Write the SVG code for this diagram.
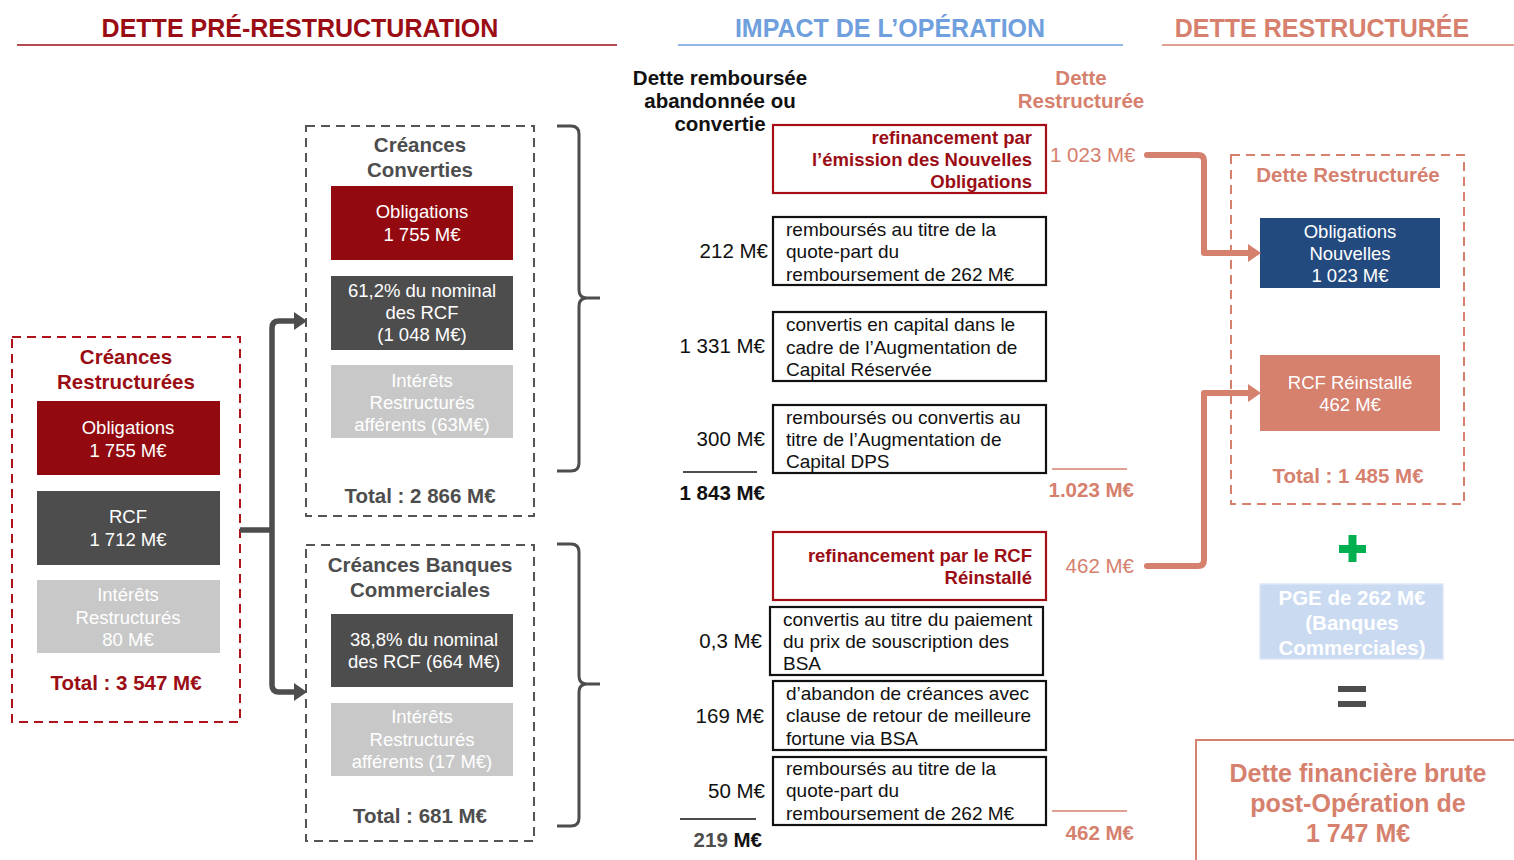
<svg xmlns="http://www.w3.org/2000/svg" width="1514" height="860" viewBox="0 0 1514 860">
<style>
text{font-family:"Liberation Sans",Arial,sans-serif}
.h{font-size:25px;font-weight:bold;text-anchor:middle}
.t{font-size:20.5px;font-weight:bold;text-anchor:middle}
.w{font-size:18.5px;fill:#fff;text-anchor:middle}
.b{font-size:19px;fill:#111}
.amt{font-size:20.5px;fill:#111;text-anchor:end}
.red{fill:#9b0d14}
.gr{fill:#4d4d4d}
.sal{fill:#d6806e}
.dr{fill:#920a10}
.dg{fill:#4d4d4d}
.lg{fill:#c8c8c8}
.dashR{fill:none;stroke:#b0121c;stroke-width:2;stroke-dasharray:9 6}
.dashG{fill:none;stroke:#555;stroke-width:2;stroke-dasharray:9 6}
.dashS{fill:none;stroke:#d6806e;stroke-width:2;stroke-dasharray:9 6}
.bx{fill:#fff;stroke:#111;stroke-width:2.2}
.rbx{fill:#fff;stroke:#a50e16;stroke-width:2.2}
.brk{fill:none;stroke:#4d4d4d;stroke-width:3}
</style>

<g id="headers">
<text class="h red" x="300" y="37">DETTE PRÉ-RESTRUCTURATION</text>
<line x1="17" y1="45" x2="617" y2="45" stroke="#9b0d14" stroke-width="1.6"/>
<text class="h" x="890" y="37" fill="#6f9fdc">IMPACT DE L’OPÉRATION</text>
<line x1="678" y1="45" x2="1123" y2="45" stroke="#6f9fdc" stroke-width="1.6"/>
<text class="h sal" x="1322" y="37">DETTE RESTRUCTURÉE</text>
<line x1="1162" y1="45" x2="1514" y2="45" stroke="#d6806e" stroke-width="1.6"/>
</g>

<g id="creances-restructurees">
<rect class="dashR" x="12" y="337" width="228" height="385"/>
<text class="t red" x="126" y="364">Créances</text>
<text class="t red" x="126" y="389">Restructurées</text>
<rect class="dr" x="37" y="401" width="183" height="74"/>
<text class="w" x="128" y="434">Obligations</text>
<text class="w" x="128" y="457">1 755 M€</text>
<rect class="dg" x="37" y="491" width="183" height="74"/>
<text class="w" x="128" y="523">RCF</text>
<text class="w" x="128" y="546">1 712 M€</text>
<rect class="lg" x="37" y="580" width="183" height="73"/>
<text class="w" x="128" y="601">Intérêts</text>
<text class="w" x="128" y="624">Restructurés</text>
<text class="w" x="128" y="646">80 M€</text>
<text class="t red" x="126" y="690">Total : 3 547 M€</text>
</g>

<g id="creances-converties">
<rect class="dashG" x="306" y="126" width="228" height="390"/>
<text class="t gr" x="420" y="152">Créances</text>
<text class="t gr" x="420" y="177">Converties</text>
<rect class="dr" x="331" y="186" width="182" height="74"/>
<text class="w" x="422" y="218">Obligations</text>
<text class="w" x="422" y="241">1 755 M€</text>
<rect class="dg" x="331" y="276" width="182" height="74"/>
<text class="w" x="422" y="297">61,2% du nominal</text>
<text class="w" x="422" y="319">des RCF</text>
<text class="w" x="422" y="341">(1 048 M€)</text>
<rect class="lg" x="331" y="365" width="182" height="73"/>
<text class="w" x="422" y="387">Intérêts</text>
<text class="w" x="422" y="409">Restructurés</text>
<text class="w" x="422" y="431">afférents (63M€)</text>
<text class="t gr" x="420" y="503">Total : 2 866 M€</text>
</g>

<g id="creances-banques">
<rect class="dashG" x="306" y="545" width="228" height="296"/>
<text class="t gr" x="420" y="572">Créances Banques</text>
<text class="t gr" x="420" y="597">Commerciales</text>
<rect class="dg" x="331" y="614" width="182" height="73"/>
<text class="w" x="424" y="646">38,8% du nominal</text>
<text class="w" x="424" y="668">des RCF (664 M€)</text>
<rect class="lg" x="331" y="703" width="182" height="73"/>
<text class="w" x="422" y="723">Intérêts</text>
<text class="w" x="422" y="746">Restructurés</text>
<text class="w" x="422" y="768">afférents (17 M€)</text>
<text class="t gr" x="420" y="823">Total : 681 M€</text>
</g>

<g id="brackets">
<path class="brk" d="M557,126 H571 Q579,126 579,134 V290 Q579,298 587,298 H600 M587,298 Q579,298 579,306 V463 Q579,471 571,471 H557"/>
<path class="brk" d="M557,544 H571 Q579,544 579,552 V676 Q579,684 587,684 H600 M587,684 Q579,684 579,692 V818 Q579,826 571,826 H557"/>
</g>

<g id="impact-headings">
<text class="t" x="720" y="85" fill="#111">Dette remboursée</text>
<text class="t" x="720" y="108" fill="#111">abandonnée ou</text>
<text class="t" x="720" y="131" fill="#111">convertie</text>
<text class="t sal" x="1081" y="85">Dette</text>
<text class="t sal" x="1081" y="108">Restructurée</text>
</g>

<g id="refi-obligations">
<rect class="rbx" x="773" y="125" width="273" height="68"/>
<text x="1032" y="144" font-size="18.5" font-weight="bold" text-anchor="end" class="red">refinancement par</text>
<text x="1032" y="166" font-size="18.5" font-weight="bold" text-anchor="end" class="red">l’émission des Nouvelles</text>
<text x="1032" y="188" font-size="18.5" font-weight="bold" text-anchor="end" class="red">Obligations</text>
<text x="1050" y="162" font-size="20.5" class="sal">1 023 M€</text>
</g>

<g id="op-212">
<rect class="bx" x="773" y="217" width="273" height="68"/>
<text class="b" x="786" y="236">remboursés au titre de la</text>
<text class="b" x="786" y="258">quote-part du</text>
<text class="b" x="786" y="281">remboursement de 262 M€</text>
<text class="amt" x="768" y="258">212 M€</text>
</g>

<g id="op-1331">
<rect class="bx" x="773" y="312" width="273" height="69"/>
<text class="b" x="786" y="331">convertis en capital dans le</text>
<text class="b" x="786" y="354">cadre de l’Augmentation de</text>
<text class="b" x="786" y="376">Capital Réservée</text>
<text class="amt" x="765" y="353">1 331 M€</text>
</g>

<g id="op-300">
<rect class="bx" x="773" y="405" width="273" height="68"/>
<text class="b" x="786" y="424">remboursés ou convertis au</text>
<text class="b" x="786" y="446">titre de l’Augmentation de</text>
<text class="b" x="786" y="468">Capital DPS</text>
<text class="amt" x="765" y="446">300 M€</text>
</g>

<g id="subtotal-1">
<line x1="683" y1="472" x2="757" y2="472" stroke="#111" stroke-width="1.6"/>
<text class="amt" x="765" y="500" font-weight="bold">1 843 M€</text>
<line x1="1052" y1="469" x2="1127" y2="469" stroke="#d6806e" stroke-width="1.4"/>
<text x="1134" y="497" font-size="20.5" font-weight="bold" text-anchor="end" class="sal">1.023 M€</text>
</g>

<g id="refi-rcf">
<rect class="rbx" x="773" y="532" width="273" height="68"/>
<text x="1032" y="562" font-size="18.5" font-weight="bold" text-anchor="end" class="red">refinancement par le RCF</text>
<text x="1032" y="584" font-size="18.5" font-weight="bold" text-anchor="end" class="red">Réinstallé</text>
<text x="1134" y="573" font-size="20.5" text-anchor="end" class="sal">462 M€</text>
</g>

<g id="op-03">
<rect class="bx" x="770" y="607" width="273" height="68"/>
<text class="b" x="783" y="626">convertis au titre du paiement</text>
<text class="b" x="783" y="648">du prix de souscription des</text>
<text class="b" x="783" y="670">BSA</text>
<text class="amt" x="762" y="648">0,3 M€</text>
</g>

<g id="op-169">
<rect class="bx" x="773" y="681" width="273" height="69"/>
<text class="b" x="786" y="700">d’abandon de créances avec</text>
<text class="b" x="786" y="722">clause de retour de meilleure</text>
<text class="b" x="786" y="745">fortune via BSA</text>
<text class="amt" x="764" y="723">169 M€</text>
</g>

<g id="op-50">
<rect class="bx" x="773" y="757" width="273" height="68"/>
<text class="b" x="786" y="775">remboursés au titre de la</text>
<text class="b" x="786" y="797">quote-part du</text>
<text class="b" x="786" y="820">remboursement de 262 M€</text>
<text class="amt" x="765" y="798">50 M€</text>
</g>

<g id="subtotal-2">
<line x1="680" y1="819" x2="756" y2="819" stroke="#111" stroke-width="1.6"/>
<text class="amt" x="762" y="847" font-weight="bold"><tspan fill="#4d4d4d">219 </tspan>M€</text>
<line x1="1052" y1="811" x2="1127" y2="811" stroke="#d6806e" stroke-width="1.4"/>
<text x="1134" y="840" font-size="20.5" font-weight="bold" text-anchor="end" class="sal">462 M€</text>
</g>

<g id="dette-restructuree">
<rect class="dashS" x="1231" y="155" width="233" height="349"/>
<text class="t sal" x="1348" y="182">Dette Restructurée</text>
<rect x="1260" y="218" width="180" height="70" fill="#234a7f"/>
<text class="w" x="1350" y="238">Obligations</text>
<text class="w" x="1350" y="260">Nouvelles</text>
<text class="w" x="1350" y="282">1 023 M€</text>
<rect x="1260" y="355" width="180" height="76" fill="#d6806e"/>
<text class="w" x="1350" y="389">RCF Réinstallé</text>
<text class="w" x="1350" y="411">462 M€</text>
<text class="t sal" x="1348" y="483">Total : 1 485 M€</text>
</g>

<g id="plus">
<rect x="1339" y="545" width="27" height="8" fill="#00b050"/>
<rect x="1348.5" y="535" width="8" height="27" fill="#00b050"/>
</g>

<g id="pge">
<rect x="1260" y="584" width="183" height="75" fill="#c9daf1" stroke="#dce7f6" stroke-width="1.5"/>
<text class="t" x="1352" y="605" fill="#fff">PGE de 262 M€</text>
<text class="t" x="1352" y="630" fill="#fff">(Banques</text>
<text class="t" x="1352" y="655" fill="#fff">Commerciales)</text>
</g>

<g id="equals">
<rect x="1338" y="686" width="28" height="6" fill="#4d4d4d"/>
<rect x="1338" y="701" width="28" height="6" fill="#4d4d4d"/>
</g>

<g id="dette-financiere-brute">
<rect x="1196" y="740" width="340" height="140" fill="none" stroke="#d6806e" stroke-width="2"/>
<text x="1358" y="782" font-size="25" font-weight="bold" text-anchor="middle" class="sal">Dette financière brute</text>
<text x="1358" y="812" font-size="25" font-weight="bold" text-anchor="middle" class="sal">post-Opération de</text>
<text x="1358" y="842" font-size="25" font-weight="bold" text-anchor="middle" class="sal">1 747 M€</text>
</g>

<g id="connectors">
<path d="M240,530 H272" fill="none" stroke="#4d4d4d" stroke-width="5.5"/>
<path d="M296,321 H279 Q272,321 272,328 V685 Q272,692 279,692 H296" fill="none" stroke="#4d4d4d" stroke-width="5.5"/>
<polygon points="307,321 294,312 294,330" fill="#4d4d4d"/>
<polygon points="307,692 294,683 294,701" fill="#4d4d4d"/>
<path d="M1147,155 H1198 Q1204,155 1204,161 V253 H1249" fill="none" stroke="#d6806e" stroke-width="6" stroke-linecap="round" stroke-linejoin="round"/>
<polygon points="1261,253 1248,244 1248,262" fill="#d6806e"/>
<path d="M1147,566 H1198 Q1204,566 1204,560 V393 H1249" fill="none" stroke="#d6806e" stroke-width="6" stroke-linecap="round" stroke-linejoin="round"/>
<polygon points="1261,393 1248,384 1248,402" fill="#d6806e"/>
</g>
</svg>
